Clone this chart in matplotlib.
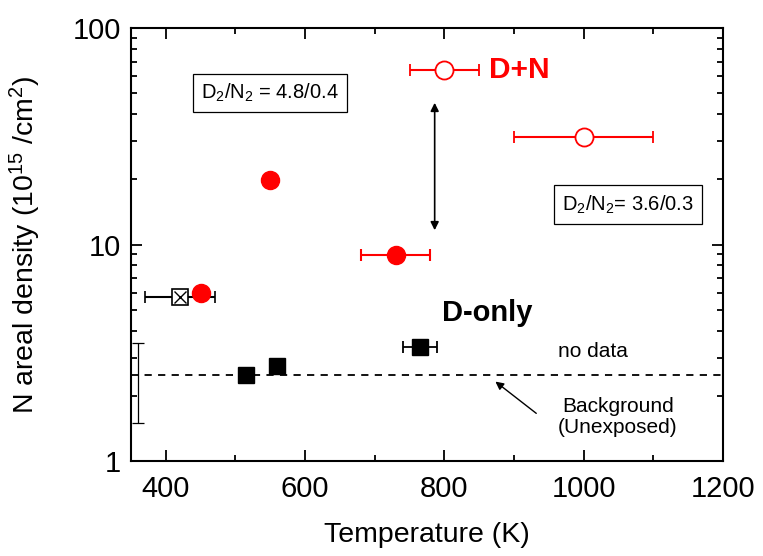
import matplotlib
matplotlib.use('Agg')
import matplotlib.pyplot as plt
from matplotlib.ticker import LogLocator, NullFormatter, FixedLocator

plt.rcParams['font.family'] = ['Liberation Sans', 'DejaVu Sans']
plt.rcParams['mathtext.fontset'] = 'custom'
plt.rcParams['mathtext.rm'] = 'Liberation Sans'
plt.rcParams['mathtext.it'] = 'Liberation Sans:italic'

# D+N, filled red circles (D2/N2 = 4.8/0.4)
dn_fill_t = [450, 550, 730]
dn_fill_n = [6.0, 19.8, 8.9]
dn_fill_terr = [0, 0, 50]

# D+N, open red circles (D2/N2 = 3.6/0.3)
dn_open_t = [800, 1000]
dn_open_n = [64, 31.5]
dn_open_terr = [50, 100]

# D-only, filled black squares
d_t = [515, 560, 765]
d_n = [2.5, 2.75, 3.36]
d_terr = [0, 0, 25]

# crossed square
x_t = [420]
x_n = [5.7]
x_terr = [50]

background = 2.5
bg_err_t = 360
bg_err_lo, bg_err_hi = 1.5, 3.5

fig = plt.figure(figsize=(7.63, 5.56), dpi=100)
ax = fig.add_axes([0.1717, 0.1709, 0.7759, 0.7787])

ax.set_yscale('log')
ax.set_xlim(350, 1200)
ax.set_ylim(1, 100)

ax.axhline(background, color='black', ls=(0, (4, 3.5)), lw=1.3)
ax.errorbar([bg_err_t], [background],
            yerr=[[background - bg_err_lo], [bg_err_hi - background]],
            fmt='none', ecolor='black', elinewidth=0.9, capsize=4, capthick=0.9)

ax.errorbar(dn_fill_t, dn_fill_n, xerr=dn_fill_terr, fmt='o', color='red',
            ms=13, mec='red', mfc='red', elinewidth=1.5, capsize=4, capthick=1.5, zorder=4)
ax.errorbar(dn_open_t, dn_open_n, xerr=dn_open_terr, fmt='o', color='red',
            ms=13, mec='red', mfc='white', mew=1.3, elinewidth=1.5, capsize=4, capthick=1.5, zorder=4)
ax.errorbar(d_t, d_n, xerr=d_terr, fmt='s', color='black',
            ms=12, elinewidth=1.3, capsize=4, capthick=1.3, zorder=4)
ax.errorbar(x_t, x_n, xerr=x_terr, fmt='s', color='black', mfc='white', mew=1.2,
            ms=11.5, elinewidth=1.5, capsize=4, capthick=1.5, zorder=4)
ax.plot(x_t, x_n, marker='x', color='black', ms=8, mew=1.0, ls='none', zorder=5)

# arrows
ax.annotate('', xy=(786, 11.3), xytext=(786, 46.5),
            arrowprops=dict(arrowstyle='<|-|>', color='black', lw=1.2, mutation_scale=12))
ax.annotate('', xy=(870, 2.37), xytext=(935, 1.63),
            arrowprops=dict(arrowstyle='-|>', color='black', lw=1.0, mutation_scale=12))

# texts
ax.text(908, 64, 'D+N', color='red', fontsize=21.5, fontweight='bold', ha='center', va='center')
ax.text(862, 4.85, 'D-only', color='black', fontsize=21, fontweight='bold', ha='center', va='center')
ax.text(1013, 3.2, 'no data', fontsize=15, ha='center', va='center')
ax.text(1049, 1.6, 'Background\n(Unexposed)', fontsize=15, ha='center', va='center',
        linespacing=1.1)
box = dict(boxstyle='square,pad=0.4', fc='white', ec='black', lw=0.9)
ax.text(550, 50, r'D$_2$/N$_2$ = 4.8/0.4', fontsize=14.5, ha='center', va='center', bbox=box)
ax.text(1063, 15.3, r'D$_2$/N$_2$= 3.6/0.3', fontsize=14.5, ha='center', va='center', bbox=box)

ax.set_xlabel('Temperature (K)', fontsize=20.5, labelpad=14)
ax.set_ylabel(r'N areal density (10$^{15}$ /cm$^2$)', fontsize=20.5)
ax.yaxis.set_label_coords(-0.148, 0.5)

ax.xaxis.set_major_locator(FixedLocator([400, 600, 800, 1000, 1200]))
ax.xaxis.set_minor_locator(FixedLocator([500, 700, 900, 1100]))
ax.yaxis.set_major_locator(FixedLocator([1, 10, 100]))
ax.set_yticklabels(['1', '10', '100'])
ax.yaxis.set_minor_locator(LogLocator(base=10, subs=range(2, 10)))
ax.yaxis.set_minor_formatter(NullFormatter())

ax.tick_params(which='both', direction='in', top=True, right=True, labelsize=21, width=1.3)
ax.tick_params(which='major', length=8)
ax.tick_params(which='minor', length=4.5)
ax.tick_params(axis='x', which='major', pad=10)
ax.tick_params(axis='y', which='major', pad=7)
for s in ax.spines.values():
    s.set_linewidth(1.5)

fig.savefig('out.png', dpi=100)
